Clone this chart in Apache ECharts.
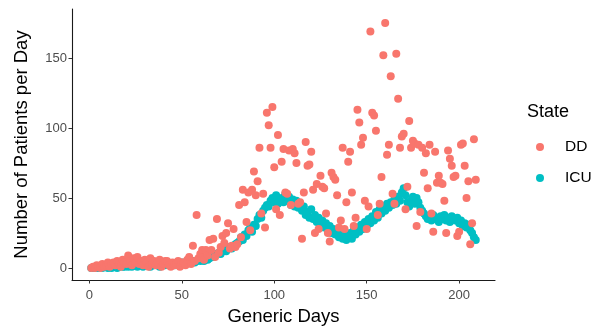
<!DOCTYPE html>
<html>
<head>
<meta charset="utf-8">
<script src="https://cdn.jsdelivr.net/npm/echarts@6/dist/echarts.min.js"></script>
<style>html,body{margin:0;padding:0;background:#fff;}#c{width:594px;height:331px;}</style>
</head>
<body>
<div id="c"></div>
<script>
// Days 1..209
const days = Array.from({length: 209}, (_, i) => i + 1);
const ddValues = [
  0,1,0,2,1,0,3,1,2,4, 1,3,4,2,5,3,1,6,4,3,
  9,5,2,7,4,8,3,5,2,6, 4,1,7,3,5,2,4,6,1,3,
  5,5,2,1,4,2,3,5,1,4, 4,2,6,8,3,16,5,38,7,10,
  13,6,13,9,20,13,21,8,35,11, 15,23,18,25,32,14,16,28,15,17,
  45,22,56,47,33,54,27,56,69,52, 62,86,39,53,29,111,102,86,115,72,
  42,95,38,76,85,54,53,84,45,85, 82,75,46,47,21,54,90,73,74,83,
  56,25,60,28,66,58,57,39,25,19, 68,65,63,52,29,34,86,28,47,76,
  83,54,30,36,113,104,88,93,48,28, 44,169,111,109,98,38,46,65,152,175,
  81,88,137,53,46,153,121,86,94,96, 42,58,105,86,91,89,30,88,40,86,
  68,82,57,88,39,26,83,61,66,61, 60,48,25,84,78,73,65,66,23,26,
  88,89,73,50,62,17,32,92,63
];
const icuValues = [
  0,0,1,0,0,1,0,1,1,0, 1,0,1,1,0,1,2,1,1,2,
  1,2,1,2,2,1,3,2,1,2, 2,3,1,2,2,3,2,1,2,3,
  2,3,2,3,3,2,3,4,3,4, 3,4,5,4,4,5,4,5,6,5,
  6,5,7,6,7,8,8,9,10,11, 10,12,13,12,14,15,14,16,17,18,
  19,22,20,24,23,27,29,26,31,30, 35,38,36,41,43,45,44,48,50,47,
  52,46,49,50,47,53,48,51,45,49, 44,48,43,46,41,44,38,40,36,42,
  35,38,33,36,30,34,29,32,27,30, 25,28,24,27,22,26,21,24,20,23,
  25,21,27,24,29,26,31,28,33,30, 35,32,37,34,40,36,42,39,44,41,
  46,43,47,45,49,46,51,48,54,57, 52,47,44,48,51,46,50,47,43,41,
  39,37,35,37,34,38,35,36,33,37, 35,38,34,36,33,37,35,34,36,32,
  34,30,32,29,31,27,25,22,20
];
const seriesNames = ['DD', 'ICU'];
const xTicks = [0, 50, 100, 150, 200];
const yTicks = [0, 50, 100, 150];

const FONT = '"Liberation Sans", Arial, sans-serif';
const chart = echarts.init(document.getElementById('c'), null, {renderer: 'canvas'});
const axisCommon = {
  axisLine: {show: true, onZero: false, lineStyle: {color: '#1a1a1a', width: 1.1}},
  axisTick: {show: true, length: 3.5, lineStyle: {color: '#333', width: 1}},
  axisLabel: {color: '#4d4d4d', fontSize: 13, fontFamily: FONT},
  splitLine: {show: false},
  nameTextStyle: {color: '#000', fontSize: 18.5, fontFamily: FONT}
};
chart.setOption({
  animation: false,
  backgroundColor: '#fff',
  grid: {left: 72, right: 99, top: 9, bottom: 50},
  xAxis: Object.assign({}, axisCommon, {
    type: 'value', min: -9.4, max: 219.4,
    name: 'Generic Days', nameLocation: 'middle', nameGap: 27,
    axisTick: Object.assign({}, axisCommon.axisTick, {customValues: xTicks}),
    axisLabel: Object.assign({}, axisCommon.axisLabel, {customValues: xTicks, margin: 9})
  }),
  yAxis: Object.assign({}, axisCommon, {
    type: 'value', min: -8.5, max: 185,
    name: 'Number of Patients per Day', nameLocation: 'middle', nameGap: 41,
    axisTick: Object.assign({}, axisCommon.axisTick, {customValues: yTicks}),
    axisLabel: Object.assign({}, axisCommon.axisLabel, {customValues: yTicks, margin: 5})
  }),
  legend: {
    orient: 'vertical', left: 536, top: 139, itemWidth: 8, itemHeight: 8, itemGap: 15,
    icon: 'circle', padding: 0,
    textStyle: {color: '#000', fontSize: 15.5, fontFamily: FONT, padding: [0, 0, 0, 16]},
    data: seriesNames
  },
  graphic: [{
    type: 'text', left: 527, top: 103,
    style: {text: 'State', fill: '#000', fontSize: 18, fontFamily: FONT}
  }],
  series: [
    {name: 'ICU', type: 'scatter', symbolSize: 8, z: 2,
     itemStyle: {color: '#00BFC4', opacity: 1},
     data: days.map((d, i) => [d, icuValues[i]])},
    {name: 'DD', type: 'scatter', symbolSize: 8, z: 3,
     itemStyle: {color: '#F8766D', opacity: 1},
     data: days.map((d, i) => [d, ddValues[i]])}
  ]
});
</script>
</body>
</html>
